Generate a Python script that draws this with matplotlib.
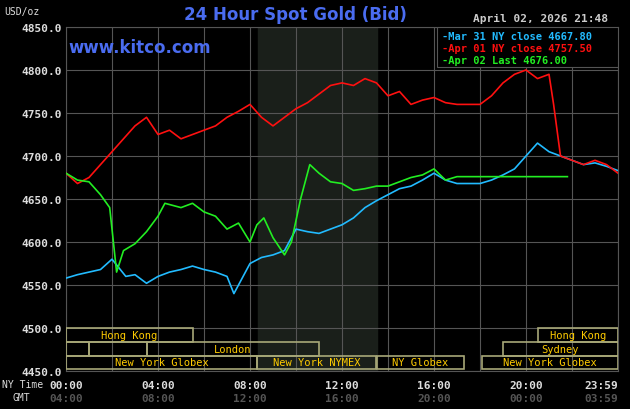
import matplotlib.pyplot as plt
from matplotlib.patches import Rectangle

# hours since 00:00 NY time
blue_h = [0, 0.5, 1, 1.5, 2, 2.3, 2.6, 3, 3.5, 4, 4.5, 5, 5.5, 6, 6.5, 7, 7.3, 7.6, 8, 8.5, 9, 9.5,
          10, 10.5, 11, 11.5, 12, 12.5, 13, 13.5, 14, 14.5, 15, 15.5, 16, 16.5, 17, 18, 18.5, 19,
          19.5, 20, 20.5, 21, 21.5, 22, 22.5, 23, 23.5, 24]
blue_v = [4558, 4562, 4565, 4568, 4580, 4570, 4560, 4562, 4552, 4560, 4565, 4568, 4572, 4568, 4565,
          4560, 4540, 4555, 4575, 4582, 4585, 4590, 4615, 4612, 4610, 4615, 4620, 4628, 4640, 4648,
          4655, 4662, 4665, 4672, 4680, 4672, 4668, 4668, 4672, 4678, 4685, 4700, 4715, 4705, 4700,
          4695, 4690, 4692, 4688, 4683]
red_h = [0, 0.5, 1, 1.5, 2, 2.5, 3, 3.5, 4, 4.5, 5, 5.5, 6, 6.5, 7, 7.5, 8, 8.5, 9, 9.5, 10, 10.5,
         11, 11.5, 12, 12.5, 13, 13.5, 14, 14.5, 15, 15.5, 16, 16.5, 17, 18, 18.5, 19, 19.5, 20,
         20.5, 21, 21.2, 21.5, 22, 22.5, 23, 23.5, 24]
red_v = [4680, 4668, 4675, 4690, 4705, 4720, 4735, 4745, 4725, 4730, 4720, 4725, 4730, 4735, 4745,
         4752, 4760, 4745, 4735, 4745, 4755, 4762, 4772, 4782, 4785, 4782, 4790, 4785, 4770, 4775,
         4760, 4765, 4768, 4762, 4760, 4760, 4770, 4785, 4795, 4800, 4790, 4795, 4760, 4700, 4695,
         4690, 4695, 4690, 4680]
green_h = [0, 0.5, 1, 1.5, 1.9, 2.2, 2.5, 3, 3.5, 4, 4.3, 5, 5.5, 6, 6.5, 7, 7.5, 8, 8.3, 8.6, 9,
           9.5, 9.8, 10.2, 10.6, 11, 11.5, 12, 12.5, 13, 13.5, 14, 14.5, 15, 15.5, 16, 16.5, 17, 21.8]
green_v = [4680, 4672, 4670, 4655, 4640, 4565, 4590, 4598, 4612, 4630, 4645, 4640, 4645, 4635, 4630,
           4615, 4622, 4600, 4620, 4628, 4605, 4585, 4600, 4650, 4690, 4680, 4670, 4668, 4660, 4662,
           4665, 4665, 4670, 4675, 4678, 4685, 4672, 4676, 4676]

# sessions: (row, start, end, label)
sessions = [(0, 0, 5.5, 'Hong Kong'), (0, 20.5, 24, 'Hong Kong'),
            (1, 0, 1, ''), (1, 1, 3.5, ''), (1, 3.5, 11, 'London'), (1, 19, 24, 'Sydney'),
            (2, 0, 8.3, 'New York Globex'), (2, 8.3, 13.5, 'New York NYMEX'),
            (2, 13.5, 17.3, 'NY Globex'), (2, 18.1, 24, 'New York Globex')]

ny_ticks = ['00:00', '04:00', '08:00', '12:00', '16:00', '20:00', '23:59']
gmt_ticks = ['04:00', '08:00', '12:00', '16:00', '20:00', '00:00', '03:59']
y_ticks = [4450, 4500, 4550, 4600, 4650, 4700, 4750, 4800, 4850]

mono = 'DejaVu Sans Mono'
fig = plt.figure(figsize=(6.3, 4.1), dpi=100, facecolor='black')
ax = fig.add_axes([66 / 630, 1 - 372 / 410, 552 / 630, 344 / 410], facecolor='black')
ax.set_xlim(0, 24)
ax.set_ylim(4450, 4850)

for h in range(0, 25, 2):
    ax.axvline(h, color='#555555', lw=0.8, zorder=1)
for y in y_ticks:
    ax.axhline(y, color='#555555', lw=0.8, zorder=1)
ax.axvspan(8.33, 13.5, color='#1a1f1a', zorder=0)

ax.plot(blue_h, blue_v, color='#22bbff', lw=1.2, zorder=3)
ax.plot(red_h, red_v, color='#ff1010', lw=1.2, zorder=3)
ax.plot(green_h, green_v, color='#22ee22', lw=1.2, zorder=4)

row_top = [4500, 4484, 4468]
for row, s, e, lab in sessions:
    ax.add_patch(Rectangle((s, row_top[row] - 16), e - s, 16, fill=False,
                           ec='#a8a878', lw=1.2, zorder=5))
    if lab:
        ax.text((s + e) / 2, row_top[row] - 8, lab, color='#ffcc00', fontsize=7.5,
                family=mono, ha='center', va='center', zorder=6)

for sp in ax.spines.values():
    sp.set_color('#555555')
ax.set_xticks([])
ax.set_yticks(y_ticks)
ax.set_yticklabels(['%.1f' % v for v in y_ticks], color='#dddddd', fontsize=8,
                   family=mono, fontweight='bold')
ax.tick_params(axis='y', length=0, pad=3)

pos = [0, 4, 8, 12, 16, 20, 24]
for i, (p, ny, gm) in enumerate(zip(pos, ny_ticks, gmt_ticks)):
    ha = 'right' if i == len(pos) - 1 else 'center'
    ax.text(p, -0.04, ny, transform=ax.get_xaxis_transform(), color='#dddddd', fontsize=8,
            family=mono, fontweight='bold', ha=ha, va='center')
    ax.text(p, -0.078, gm, transform=ax.get_xaxis_transform(), color='#555555', fontsize=8,
            family=mono, fontweight='bold', ha=ha, va='center')
fig.text(2 / 630, 1 - 385 / 410, 'NY Time', color='#dddddd', fontsize=7, family=mono, va='center')
fig.text(12 / 630, 1 - 398 / 410, 'GMT', color='#dddddd', fontsize=7, family=mono, va='center')
fig.text(4 / 630, 1 - 12 / 410, 'USD/oz', color='#dddddd', fontsize=7, family=mono, va='center')

fig.text(295 / 630, 1 - 15 / 410, '24 Hour Spot Gold (Bid)', color='#4a6cf0', fontsize=12,
         fontweight='bold', ha='center', va='center')
fig.text(68 / 630, 1 - 48 / 410, 'www.kitco.com', color='#4a6cf0', fontsize=12,
         fontweight='bold', va='center', zorder=10)
fig.text(608 / 630, 1 - 19 / 410, 'April 02, 2026 21:48', color='#cccccc', fontsize=8,
         family=mono, fontweight='bold', ha='right', va='center')

ax.add_patch(Rectangle((0.672, 0.885), 0.328, 0.115, transform=ax.transAxes, fc='black',
                       ec='#555555', lw=0.8, zorder=7))
legend = [('Mar 31 NY close 4667.80', '#22bbff'), ('Apr 01 NY close 4757.50', '#ff1010'),
          ('Apr 02 Last 4676.00', '#22ee22')]
for i, (lab, c) in enumerate(legend):
    ax.text(0.682, 0.975 - i * 0.035, '-' + lab, transform=ax.transAxes, color=c,
            fontsize=7.5, family=mono, fontweight='bold', va='center', zorder=8)

fig.savefig('out.png', dpi=100, facecolor='black')
